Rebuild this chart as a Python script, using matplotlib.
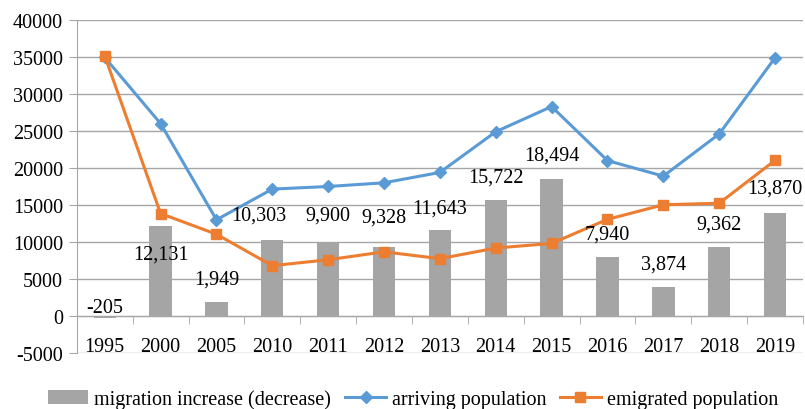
import matplotlib
matplotlib.use("Agg")
import matplotlib.pyplot as plt
import numpy as np

years = ["1995", "2000", "2005", "2010", "2011", "2012", "2013", "2014",
         "2015", "2016", "2017", "2018", "2019"]
migration = [-205, 12131, 1949, 10303, 9900, 9328, 11643, 15722,
             18494, 7940, 3874, 9362, 13870]
arriving = [34950, 26000, 13000, 17150, 17500, 18000, 19400, 24900,
            28300, 21000, 18900, 24600, 34900]
emigrated = [35155, 13850, 11050, 6800, 7600, 8670, 7750, 9180,
             9810, 13060, 15030, 15240, 21030]
label_text = ["-205", "12,131", "1,949", "10,303", "9,900", "9,328", "11,643",
              "15,722", "18,494", "7,940", "3,874", "9,362", "13,870"]
# label vertical offsets (data units, relative to bar top) and horizontal offsets (category units)
label_dy = [1100, -3700, 3100, 3300, 3700, 4100, 3000, 3100, 3200, 3200, 3100, 3100, 3400]
label_dx = [0, 0, 0, -0.25, 0, 0, 0, 0, 0, 0, 0, 0, 0]

plt.rcParams['font.family'] = ['Liberation Serif', 'DejaVu Serif']
fs = 14.5

fig = plt.figure(figsize=(8.05, 4.10), dpi=100)
ax = fig.add_axes([0.0954, 0.1366, 0.9021, 0.8122])

x = np.arange(len(years))
grid_c = "#A6A6A6"

hb = ax.bar(x, migration, width=0.4, color="#A5A5A5", zorder=2,
            label="migration increase (decrease)")
hl1, = ax.plot(x, arriving, color="#5B9BD5", lw=2.2, marker="D", ms=6.5, zorder=3,
               label="arriving population")
hl2, = ax.plot(x, emigrated, color="#ED7D31", lw=2.2, marker="s", ms=7, zorder=4,
               label="emigrated population")

for i, (v, t) in enumerate(zip(migration, label_text)):
    base = max(v, 0)
    ax.text(x[i] + label_dx[i], base + label_dy[i], t, ha="center", va="center",
            fontsize=fs, color="black", zorder=5)

ax.set_xlim(-0.5, len(years) - 0.5)
ax.set_ylim(-5000, 40000)
ax.set_yticks(np.arange(-5000, 40001, 5000))
ax.set_yticklabels([str(v) for v in range(-5000, 40001, 5000)], fontsize=fs)
ax.yaxis.grid(True, color=grid_c, lw=1.0, zorder=0)
ax.set_axisbelow(True)

for s in ["top", "right"]:
    ax.spines[s].set_visible(False)
ax.spines["left"].set_color(grid_c)
ax.spines["bottom"].set_position(("data", 0))
ax.spines["bottom"].set_color(grid_c)
ax.tick_params(axis="y", length=6, color=grid_c, pad=4)

ax.set_xticks(x)
ax.set_xticklabels(years, fontsize=fs)
ax.tick_params(axis="x", which="major", length=0, pad=15)
ax.set_xticks(np.arange(-0.5, len(years), 1.0), minor=True)
ax.tick_params(axis="x", which="minor", length=6, color=grid_c, direction="out")

fig.legend(handles=[hb, hl1, hl2], loc="lower center", bbox_to_anchor=(0.513, -0.045),
           ncol=3, frameon=False, fontsize=fs, handlelength=2.0, columnspacing=0.7,
           handletextpad=0.3)

fig.savefig("out.png", dpi=100)
